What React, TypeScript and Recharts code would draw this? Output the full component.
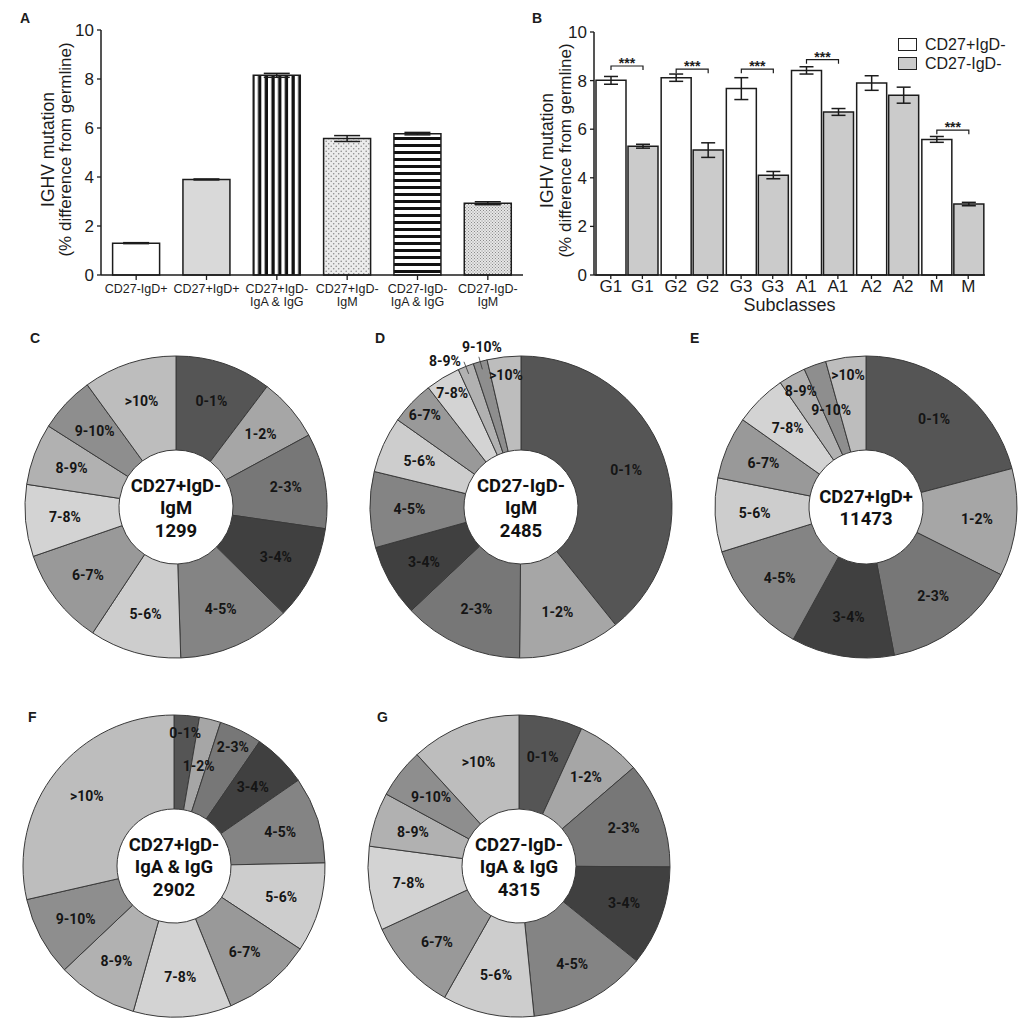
import React from "react";
import {
  BarChart, Bar, XAxis, YAxis, ErrorBar, Cell, Legend, LabelList, Label,
  PieChart, Pie,
} from "recharts";

const AXIS_FONT = "'Liberation Sans', Arial, sans-serif";
const PIE_FONT = "Roboto, 'Noto Sans', sans-serif";
const INK = "#1c1c1c";

// ---- panel A: mean IGHV mutation per population
const populationsA = [
  "CD27-IgD+", "CD27+IgD+", "CD27+IgD-\nIgA & IgG",
  "CD27+IgD-\nIgM", "CD27-IgD-\nIgA & IgG", "CD27-IgD-\nIgM",
];
const mutationA = [1.3, 3.9, 8.15, 5.57, 5.77, 2.93];
const semA = [0.02, 0.02, 0.08, 0.12, 0.05, 0.06];
const fillsA = ["#ffffff", "#d9d9d9", "url(#vstripe)", "url(#dots)", "url(#hstripe)", "url(#fineDots)"];
const yTicks = [0, 2, 4, 6, 8, 10];

// ---- panel B: subclasses, CD27+IgD- vs CD27-IgD-
const subclasses = ["G1", "G2", "G3", "A1", "A2", "M"];
const memoryMut = [8.01, 8.12, 7.67, 8.42, 7.9, 5.58];
const memorySem = [0.16, 0.15, 0.45, 0.15, 0.3, 0.12];
const doubleNegMut = [5.3, 5.14, 4.11, 6.71, 7.4, 2.92];
const doubleNegSem = [0.08, 0.3, 0.15, 0.14, 0.33, 0.07];
const sigLevel = [8.6, 8.47, 8.47, 8.86, null, 5.96];

// ---- panels C-G: share of sequences per mutation bin (%)
const bins = ["0-1%", "1-2%", "2-3%", "3-4%", "4-5%", "5-6%", "6-7%", "7-8%", "8-9%", "9-10%", ">10%"];
const binColors = ["#555555", "#a6a6a6", "#777777", "#404040", "#848484", "#cdcdcd", "#999999", "#d3d3d3", "#b1b1b1", "#8e8e8e", "#bdbdbd"];
const memoryIgM = [10.3, 6.8, 10.2, 10.1, 12.1, 9.8, 10.4, 7.7, 6.6, 6.0, 10.0];
const doubleNegIgM = [39.2, 10.9, 12.8, 7.7, 8.1, 6.0, 4.7, 3.7, 1.7, 1.5, 3.6];
const unswitched = [20.9, 11.5, 14.6, 11.0, 12.2, 7.9, 6.7, 5.6, 2.9, 2.4, 4.3];
const memorySwitched = [2.7, 2.3, 4.6, 5.8, 9.3, 9.6, 9.6, 10.5, 8.6, 8.5, 28.6];
const doubleNegSwitched = [6.8, 6.9, 11.4, 10.7, 12.6, 9.8, 9.9, 9.0, 5.8, 5.3, 11.8];

const dataA = populationsA.map((name, i) => ({ name, value: mutationA[i], err: semA[i] }));
const dataB = subclasses.map((sub, i) => ({
  sub,
  memory: memoryMut[i], memoryErr: memorySem[i],
  dn: doubleNegMut[i], dnErr: doubleNegSem[i],
  sig: sigLevel[i],
}));

const BAR_GAP = 2;
const RAD = Math.PI / 180;

function yLabel(baselines: number[]) {
  return (props: any) => {
    const vb = props.viewBox || {};
    const cy = (vb.y ?? 30) + (vb.height ?? 245) / 2 - 3;
    return (
      <g fontFamily={AXIS_FONT} fill={INK}>
        <text transform={`translate(${baselines[0]},${cy}) rotate(-90)`} textAnchor="middle" fontSize={17.5}>
          IGHV mutation
        </text>
        <text transform={`translate(${baselines[1]},${cy}) rotate(-90)`} textAnchor="middle" fontSize={17}>
          (% difference from germline)
        </text>
      </g>
    );
  };
}

function PopulationTick({ x, y, payload }: any) {
  const lines = String(payload.value).split("\n");
  return (
    <g>
      {lines.map((l, i) => (
        <text key={i} x={x} y={y + 11 + i * 12.5} textAnchor="middle" fontSize={12.5} fill={INK} fontFamily={AXIS_FONT}>
          {l}
        </text>
      ))}
    </g>
  );
}

function SubclassTick({ x, y, payload }: any) {
  const off = 15.8;
  return (
    <g>
      {[-1, 1].map((s) => (
        <g key={s}>
          <line x1={x + s * off} x2={x + s * off} y1={y - 7} y2={y - 3} stroke={INK} strokeWidth={1.3} />
          <text x={x + s * off} y={y + 10} textAnchor="middle" fontSize={17} fill={INK} fontFamily={AXIS_FONT}>
            {payload.value}
          </text>
        </g>
      ))}
    </g>
  );
}

function SigBracket(props: any) {
  const { value, index } = props;
  if (value == null) return null;
  const vb = props.viewBox || props;
  const { x, y, width, height } = vb;
  const row = dataB[index];
  if (!row) return null;
  const perUnit = height / row.dn;
  const yb = y + height - value * perUnit;
  const left = x - BAR_GAP - width / 2;
  const right = x + width / 2;
  return (
    <g>
      <path d={`M${left},${yb + 4}V${yb}H${right}V${yb + 4}`} fill="none" stroke={INK} strokeWidth={1.2} />
      <text x={(left + right) / 2} y={yb + 2} textAnchor="middle" fontSize={14} fontWeight={700} fill={INK} fontFamily={AXIS_FONT}>
        ***
      </text>
    </g>
  );
}

function LegendB({ payload }: any) {
  return (
    <div style={{ fontFamily: AXIS_FONT, fontSize: 16, color: INK }}>
      {(payload || []).map((e: any) => (
        <div key={e.value} style={{ display: "flex", alignItems: "center", height: 19 }}>
          <span style={{ width: 19, height: 13, background: e.color, border: "1.3px solid #222", boxSizing: "border-box", marginRight: 8 }} />
          {e.value}
        </div>
      ))}
    </div>
  );
}

function sliceLabel(p: any) {
  const { cx, cy, midAngle, innerRadius, outerRadius, index, value } = p;
  const name = p.payload?.bin ?? p.name;
  const polar = (r: number, a: number) => [cx + r * Math.cos(-a * RAD), cy + r * Math.sin(-a * RAD)];
  let r = innerRadius + (outerRadius - innerRadius) * 0.58;
  let angle = midAngle;
  let leader = null;
  if (value < 2) {
    angle = midAngle + (index % 2 === 0 ? 6 : -2);
    r = outerRadius + 14;
    const [x1, y1] = polar(outerRadius - 8, midAngle);
    const [x2, y2] = polar(outerRadius + 5, midAngle);
    leader = <line x1={x1} y1={y1} x2={x2} y2={y2} stroke="#333" strokeWidth={0.8} />;
  } else if (value < 3 && index % 2 === 1) {
    r = innerRadius + 46;
  } else if (value < 5) {
    r = outerRadius - 18;
  }
  const [x, y] = polar(r, angle);
  return (
    <g key={`lbl-${index}`}>
      {leader}
      <text x={x} y={y} textAnchor="middle" dominantBaseline="central" fontFamily={PIE_FONT} fontWeight={700} fontSize={14} fill="#151515">
        {name}
      </text>
    </g>
  );
}

const PIE_BOX = 380;

function Donut({ title, values, cx, cy }: { title: string[]; values: number[]; cx: number; cy: number }) {
  const data = bins.map((bin, i) => ({ bin, share: values[i] }));
  const lineH = 22.5;
  return (
    <div style={{ position: "absolute", left: cx - PIE_BOX / 2, top: cy - PIE_BOX / 2, width: PIE_BOX, height: PIE_BOX }}>
      <PieChart width={PIE_BOX} height={PIE_BOX} margin={{ top: 0, right: 0, bottom: 0, left: 0 }}>
        <Pie
          data={data}
          dataKey="share"
          nameKey="bin"
          cx="50%"
          cy="50%"
          innerRadius={57}
          outerRadius={151}
          startAngle={90}
          endAngle={-270}
          stroke="#3a3a3a"
          strokeWidth={1}
          label={sliceLabel}
          labelLine={false}
          isAnimationActive={false}
        >
          {data.map((d, i) => (
            <Cell key={d.bin} fill={binColors[i]} />
          ))}
          <Label
            position="center"
            content={(p: any) => {
              const c = p.viewBox?.cx ?? PIE_BOX / 2;
              const m = p.viewBox?.cy ?? PIE_BOX / 2;
              const first = m - ((title.length - 1) * lineH) / 2 + 1;
              return (
                <g>
                  {title.map((t, i) => (
                    <text key={i} x={c} y={first + i * lineH} textAnchor="middle" dominantBaseline="central"
                      fontFamily={PIE_FONT} fontWeight={700} fontSize={18.5} fill="#111">
                      {t}
                    </text>
                  ))}
                </g>
              );
            }}
          />
        </Pie>
      </PieChart>
    </div>
  );
}

function PanelLetter({ letter, x, y }: { letter: string; x: number; y: number }) {
  return (
    <div style={{ position: "absolute", left: x, top: y, fontFamily: AXIS_FONT, fontWeight: 700, fontSize: 14, lineHeight: "14px", color: INK }}>
      {letter}
    </div>
  );
}

export default function App() {
  return (
    <div style={{ position: "absolute", left: 0, top: 0, width: 1028, height: 1031, background: "#fff", overflow: "hidden" }}>
      <PanelLetter letter="A" x={20} y={11} />
      <PanelLetter letter="B" x={532} y={11} />
      <PanelLetter letter="C" x={30} y={331} />
      <PanelLetter letter="D" x={375} y={331} />
      <PanelLetter letter="E" x={690} y={331} />
      <PanelLetter letter="F" x={28} y={710} />
      <PanelLetter letter="G" x={377} y={710} />

      <div style={{ position: "absolute", left: 0, top: 0 }}>
        <BarChart width={530} height={315} data={dataA} margin={{ top: 30, right: 7, bottom: 0, left: 0 }} barCategoryGap="16.5%">
          <defs>
            <pattern id="vstripe" patternUnits="userSpaceOnUse" width="6.7" height="10">
              <rect width="6.7" height="10" fill="#fff" />
              <rect x="3.4" width="3.3" height="10" fill="#111" />
            </pattern>
            <pattern id="hstripe" patternUnits="userSpaceOnUse" width="10" height="7">
              <rect width="10" height="7" fill="#fff" />
              <rect y="4" width="10" height="3" fill="#111" />
            </pattern>
            <pattern id="dots" patternUnits="userSpaceOnUse" width="5" height="5">
              <rect width="5" height="5" fill="#ececec" />
              <circle cx="1.2" cy="1.2" r="0.8" fill="#8a8a8a" />
              <circle cx="3.7" cy="3.7" r="0.8" fill="#8a8a8a" />
            </pattern>
            <pattern id="fineDots" patternUnits="userSpaceOnUse" width="3" height="3">
              <rect width="3" height="3" fill="#e6e6e6" />
              <rect x="0" y="0" width="1" height="1" fill="#8a8a8a" />
              <rect x="1.5" y="1.5" width="1" height="1" fill="#8a8a8a" />
            </pattern>
          </defs>
          <XAxis
            dataKey="name"
            interval={0}
            height={40}
            tickSize={5}
            axisLine={{ stroke: INK, strokeWidth: 1.5 }}
            tickLine={{ stroke: INK, strokeWidth: 1.3 }}
            tick={(p: any) => <PopulationTick {...p} />}
          />
          <YAxis
            type="number"
            domain={[0, 10]}
            ticks={yTicks}
            interval={0}
            width={101}
            tickSize={4}
            tickMargin={3}
            axisLine={{ stroke: INK, strokeWidth: 1.5 }}
            tickLine={{ stroke: INK, strokeWidth: 1.3 }}
            tick={{ fill: INK, fontSize: 17, fontFamily: AXIS_FONT }}
            label={yLabel([54, 71])}
          />
          <Bar dataKey="value" stroke={INK} strokeWidth={1.5} isAnimationActive={false}>
            {dataA.map((d, i) => (
              <Cell key={d.name} fill={fillsA[i]} />
            ))}
            <ErrorBar dataKey="err" width={13} stroke={INK} strokeWidth={1.5} direction="y" />
          </Bar>
        </BarChart>
      </div>

      <div style={{ position: "absolute", left: 520, top: 0 }}>
        <BarChart width={508} height={325} data={dataB} margin={{ top: 32, right: 43, bottom: 0, left: 0 }} barCategoryGap={2} barGap={BAR_GAP}>
          <XAxis
            dataKey="sub"
            interval={0}
            height={50}
            tickSize={5}
            tickMargin={2}
            tickLine={false}
            axisLine={{ stroke: INK, strokeWidth: 1.5 }}
            tick={(p: any) => <SubclassTick {...p} />}
          >
            <Label value="Subclasses" position="insideBottom" offset={14} fontSize={18} fill={INK} fontFamily={AXIS_FONT} />
          </XAxis>
          <YAxis
            type="number"
            domain={[0, 10]}
            ticks={yTicks}
            interval={0}
            width={74}
            tickSize={4}
            tickMargin={3}
            axisLine={{ stroke: INK, strokeWidth: 1.5 }}
            tickLine={{ stroke: INK, strokeWidth: 1.3 }}
            tick={{ fill: INK, fontSize: 17, fontFamily: AXIS_FONT }}
            label={yLabel([33, 51])}
          />
          <Legend
            layout="horizontal"
            align="center"
            verticalAlign="middle"
            wrapperStyle={{ top: 35, left: 378, width: 130 }}
            content={(p: any) => <LegendB {...p} />}
          />
          <Bar dataKey="memory" name="CD27+IgD-" fill="#ffffff" stroke={INK} strokeWidth={1.5} isAnimationActive={false}>
            <ErrorBar dataKey="memoryErr" width={7} stroke={INK} strokeWidth={1.5} direction="y" />
          </Bar>
          <Bar dataKey="dn" name="CD27-IgD-" fill="#cbcbcb" stroke={INK} strokeWidth={1.5} isAnimationActive={false}>
            <ErrorBar dataKey="dnErr" width={7} stroke={INK} strokeWidth={1.5} direction="y" />
            <LabelList dataKey="sig" content={(p: any) => <SigBracket {...p} />} />
          </Bar>
        </BarChart>
      </div>

      <Donut title={["CD27+IgD-", "IgM", "1299"]} values={memoryIgM} cx={176} cy={507} />
      <Donut title={["CD27-IgD-", "IgM", "2485"]} values={doubleNegIgM} cx={521} cy={507} />
      <Donut title={["CD27+IgD+", "11473"]} values={unswitched} cx={866} cy={507} />
      <Donut title={["CD27+IgD-", "IgA & IgG", "2902"]} values={memorySwitched} cx={174} cy={866} />
      <Donut title={["CD27-IgD-", "IgA & IgG", "4315"]} values={doubleNegSwitched} cx={519} cy={866} />
    </div>
  );
}
